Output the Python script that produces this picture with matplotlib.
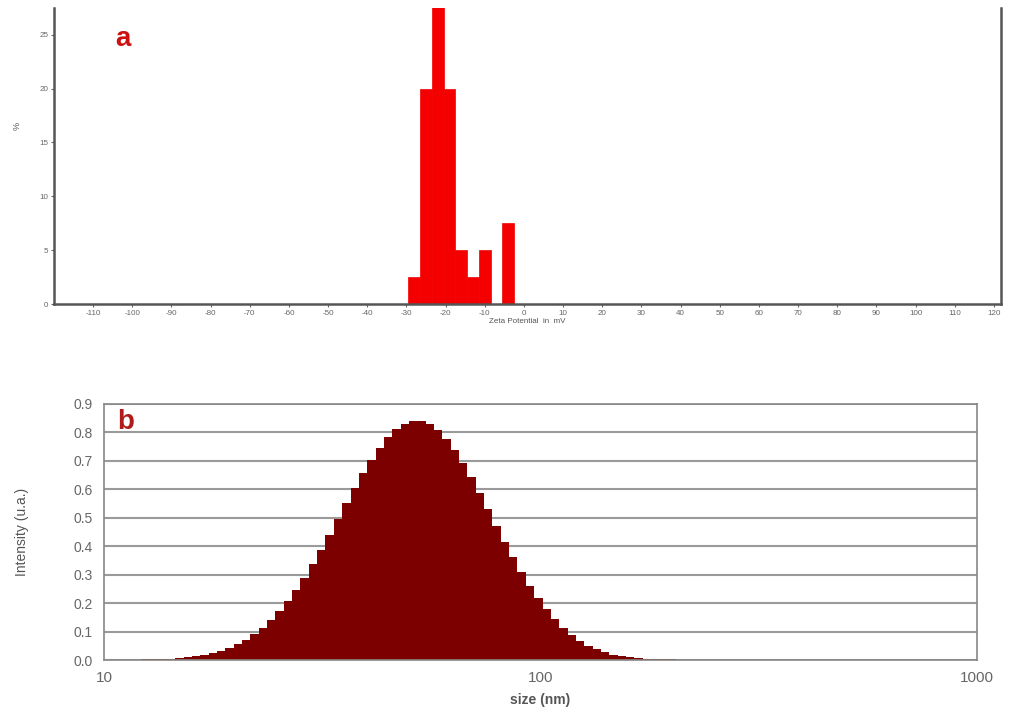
import numpy as np
import matplotlib
matplotlib.use("Agg")
import matplotlib.pyplot as plt
from matplotlib.ticker import FixedLocator, NullLocator, FormatStrFormatter, FixedFormatter

# ---------------- data: panel a (zeta potential histogram) ----------------
zeta_left_edges = [-29.5, -26.5, -23.5, -20.5, -17.5, -14.5, -11.5, -8.5, -5.5]
zeta_percent = [2.5, 20.0, 37.5, 20.0, 5.0, 2.5, 5.0, 0.0, 7.5]
zeta_bin_width = 3.0
zeta_xticks = list(range(-110, 121, 10))
zeta_yticks = [0, 5, 10, 15, 20, 25]

# ---------------- data: panel b (size distribution) ----------------
size_first_edge_nm = 10.24
size_last_edge_nm = 255.1
intensity = [
    0.0005, 0.001, 0.001, 0.001, 0.002, 0.003, 0.004, 0.005, 0.007, 0.010,
    0.014, 0.019, 0.025, 0.033, 0.043, 0.056, 0.072, 0.091, 0.113, 0.140,
    0.171, 0.206, 0.245, 0.289, 0.336, 0.387, 0.440, 0.495, 0.550, 0.604,
    0.656, 0.704, 0.746, 0.782, 0.810, 0.829, 0.839, 0.839, 0.828, 0.807,
    0.777, 0.739, 0.693, 0.643, 0.588, 0.531, 0.472, 0.413, 0.360, 0.308,
    0.261, 0.218, 0.178, 0.143, 0.113, 0.088, 0.067, 0.050, 0.037, 0.027,
    0.019, 0.013, 0.009, 0.006, 0.004, 0.003, 0.002, 0.002, 0.001, 0.001,
    0.001, 0.001, 0.001,
]
size_edges = np.geomspace(size_first_edge_nm, size_last_edge_nm, len(intensity) + 1)
b_yticks = [round(0.1 * k, 1) for k in range(10)]
b_xticks = [10, 100, 1000]

plt.rcParams['font.family'] = ['Liberation Sans', 'DejaVu Sans']
plt.rcParams['axes.unicode_minus'] = False

fig = plt.figure(figsize=(10.09, 7.12), dpi=100)

# ---------------- panel a ----------------
ax1 = fig.add_axes([0.0535, 0.573, 0.9385, 0.416])
ax1.bar(zeta_left_edges, zeta_percent, width=zeta_bin_width, align='edge',
        color='#f40000', edgecolor='#f40000', linewidth=0.5)
ax1.set_xlim(-120, 121.8)
ax1.set_ylim(0, 27.5)
ax1.xaxis.set_major_locator(FixedLocator(zeta_xticks))
ax1.yaxis.set_major_locator(FixedLocator(zeta_yticks))
ax1.tick_params(axis='both', labelsize=5.8, colors='#666666', length=2, width=0.8,
                direction='out', pad=2)
ax1.spines['top'].set_visible(False)
for s in ['left', 'bottom', 'right']:
    ax1.spines[s].set_color('#555555')
    ax1.spines[s].set_linewidth(1.8)
ax1.set_xlabel('Zeta Potential  in  mV', fontsize=5.8, color='#555555', labelpad=1)
ax1.set_ylabel('%', fontsize=6.5, color='#555555')
ax1.yaxis.set_label_coords(-0.034, 0.6)
ax1.text(0.073, 0.895, 'a', transform=ax1.transAxes, fontsize=20, fontweight='bold',
         color='#cc1111', ha='center', va='center')

# ---------------- panel b ----------------
ax2 = fig.add_axes([0.103, 0.073, 0.865, 0.360])
ax2.set_xscale('log')
ax2.stairs(intensity, size_edges, fill=True, color='#7d0000', linewidth=0, zorder=2)
ax2.set_xlim(10, 1000)
ax2.set_ylim(0, 0.9)
ax2.yaxis.set_major_locator(FixedLocator(b_yticks))
ax2.yaxis.set_major_formatter(FormatStrFormatter('%.1f'))
ax2.xaxis.set_major_locator(FixedLocator(b_xticks))
ax2.xaxis.set_major_formatter(FixedFormatter([str(v) for v in b_xticks]))
ax2.xaxis.set_minor_locator(NullLocator())
ax2.grid(axis='y', color='#9a9a9a', linewidth=1.5, zorder=1)
ax2.set_axisbelow(True)
ax2.tick_params(axis='y', labelsize=10, colors='#666666', length=0, pad=8)
ax2.tick_params(axis='x', labelsize=11, colors='#666666', length=0, pad=8)
for s in ax2.spines.values():
    s.set_color('#888888')
    s.set_linewidth(1.2)
ax2.set_xlabel('size (nm)', fontsize=10, fontweight='bold', color='#555555', labelpad=6)
ax2.set_ylabel('Intensity (u.a.)', fontsize=10, color='#555555')
ax2.yaxis.set_label_coords(-0.086, 0.5)
ax2.text(0.025, 0.93, 'b', transform=ax2.transAxes, fontsize=20, fontweight='bold',
         color='#b01a1a', ha='center', va='center')

fig.savefig('out.png', dpi=100, facecolor='white')
